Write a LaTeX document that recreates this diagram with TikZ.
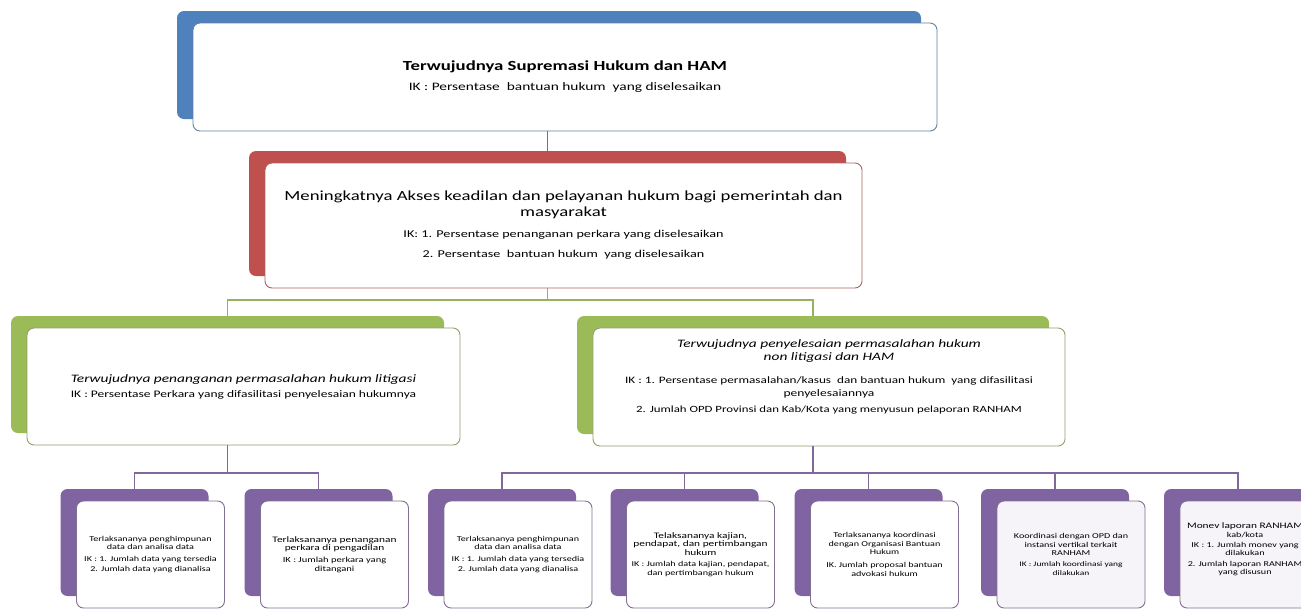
\documentclass[tikz,border=0pt]{standalone}
\usepackage{fontspec}
\setmainfont{Carlito}[FakeStretch=1.35]
\definecolor{accblue}{RGB}{79,129,189}
\definecolor{accred}{RGB}{192,80,77}
\definecolor{accgreen}{RGB}{155,187,89}
\definecolor{accpurple}{RGB}{128,100,162}
\usetikzlibrary{calc}
\usetikzlibrary{positioning}
\tikzset{
  backbox/.style={fill=#1, rounded corners=7pt, inner sep=0pt},
  frontbox/.style={draw=#1!55!gray, fill=white, rounded corners=7pt, line width=0.9pt,
    align=center, inner sep=2pt, xshift=16pt, yshift=-12pt},
  conn/.style={draw=#1!85!gray, line width=1.6pt},
}
\newcommand{\titlesize}{\fontsize{13.9}{18}\selectfont}
\newcommand{\subsize}{\fontsize{11.4}{15}\selectfont\itshape}
\newcommand{\bighd}{\fontsize{8.4}{9}\selectfont}
\begin{document}
\begin{tikzpicture}[x=1pt, y=-1pt]
  \useasboundingbox (0,0) rectangle (1301,611);

  % level 1
  \begin{scope}[every node/.append style={minimum width=744pt, minimum height=108pt}]
    \node [backbox=accblue] (topbg) at (549,65) {};
    \node [frontbox=accblue, font=\fontsize{11.4}{14}\selectfont] (top) at (topbg)
      {\titlesize\bfseries Terwujudnya Supremasi Hukum dan HAM\\[6pt]
       IK : Persentase\ \ bantuan hukum\ \ yang diselesaikan};
  \end{scope}

  % level 2
  \begin{scope}[every node/.append style={minimum width=597pt, minimum height=125pt}]
    \node [backbox=accred] (redbg) at (547.5,213.5) {};
    \node [frontbox=accred, font=\fontsize{10.5}{13}\selectfont] (red) at (redbg)
      {\titlesize Meningkatnya Akses keadilan dan pelayanan hukum bagi pemerintah dan\\[3pt]
       \titlesize masyarakat\\[8pt]
       IK: 1. Persentase penanganan perkara yang diselesaikan\\[7pt]
       2. Persentase\ \ bantuan hukum\ \ yang diselesaikan};
  \end{scope}

  % level 3
  \begin{scope}[font=\fontsize{10}{13}\selectfont]
    \node [backbox=accgreen, minimum width=433pt, minimum height=117pt] (lgreenbg) at (227.5,374.5) {};
    \node [frontbox=accgreen, minimum width=433pt, minimum height=117pt] (lgreen) at (lgreenbg)
      {\subsize Terwujudnya penanganan permasalahan hukum litigasi\\[2pt]
       IK : Persentase Perkara yang difasilitasi penyelesaian hukumnya};
    \node [backbox=accgreen, minimum width=472pt, minimum height=118pt] (rgreenbg) at (813,375) {};
    \node [frontbox=accgreen, minimum width=472pt, minimum height=118pt] (rgreen) at (rgreenbg)
      {\subsize Terwujudnya penyelesaian permasalahan hukum\\
       \subsize non litigasi dan HAM\\[10pt]
       \fontsize{9.8}{13}\selectfont IK : 1. Persentase permasalahan/kasus\ \ dan bantuan hukum\ \ yang difasilitasi\\
       penyelesaiannya\\[3pt]
       \fontsize{9.5}{13}\selectfont 2. Jumlah OPD Provinsi dan Kab/Kota yang menyusun pelaporan RANHAM\\[8pt]};
  \end{scope}

  % level 4
  \begin{scope}[every node/.append style={minimum width=148pt, minimum height=107pt},
                font=\fontsize{7.5}{8.4}\selectfont]
    \node [backbox=accpurple] (b1bg) at (134.5,542.5) {};
    \node [frontbox=accpurple] (b1) at (b1bg)
      {Terlaksananya penghimpunan\\data dan analisa data\\[3pt]
       IK : 1. Jumlah data yang tersedia\\[2pt] 2. Jumlah data yang dianalisa};
    \node [backbox=accpurple] (b2bg) at (318.5,542.5) {};
    \node [frontbox=accpurple] (b2) at (b2bg)
      {\bighd Terlaksananya penanganan\\\bighd perkara di pengadilan\\[4pt]
       \fontsize{7.8}{8.6}\selectfont IK : Jumlah perkara yang\\\fontsize{7.8}{8.6}\selectfont ditangani};
    \node [backbox=accpurple] (b3bg) at (502,542.5) {};
    \node [frontbox=accpurple] (b3) at (b3bg)
      {Terlaksananya penghimpunan\\data dan analisa data\\[3pt]
       IK : 1. Jumlah data yang tersedia\\[2pt] 2. Jumlah data yang dianalisa};
    \node [backbox=accpurple] (b4bg) at (684.5,542.5) {};
    \node [frontbox=accpurple] (b4) at (b4bg)
      {\bighd Telaksananya kajian,\\\bighd pendapat, dan pertimbangan\\\bighd hukum\\[3pt]
       IK : Jumlah data kajian, pendapat,\\dan pertimbangan hukum};
    \node [backbox=accpurple] (b5bg) at (868.5,542.5) {};
    \node [frontbox=accpurple] (b5) at (b5bg)
      {Terlaksananya koordinasi\\dengan Organisasi Bantuan\\Hukum\\[5pt]
       IK. Jumlah proposal bantuan\\advokasi hukum};
    \node [backbox=accpurple] (b6bg) at (1055,542.5) {};
    \node [frontbox=accpurple, fill=accpurple!7] (b6) at (b6bg)
      {Koordinasi dengan OPD dan\\instansi vertikal terkait\\RANHAM\\[3pt]
       \fontsize{7}{8}\selectfont IK : Jumlah koordinasi yang\\\fontsize{7}{8}\selectfont dilakukan};
    \node [backbox=accpurple] (b7bg) at (1238,542.5) {};
    \node [frontbox=accpurple, fill=accpurple!7] (b7) at (b7bg) {};
    \node [align=center, inner sep=0pt, minimum width=0pt, minimum height=0pt]
      (b7text) at ([xshift=-9pt, yshift=5pt]b7.center)
      {\bighd Monev laporan RANHAM\\kab/kota\\[2pt]
       IK : 1. Jumlah monev yang\\dilakukan\\[2pt] 2. Jumlah laporan RANHAM\\yang disusun};
  \end{scope}

  % connectors
  \coordinate (gjoin) at (547.5,300);
  \coordinate (ljoin) at (227.5,473);
  \coordinate (rjoin) at (813,473);
  \draw [conn=accred] (top.south -| redbg) -- (redbg.north);
  \draw [conn=accgreen] (red.south -| redbg) -- (gjoin);
  \draw [conn=accgreen] (lgreenbg.north) |- (gjoin) -| (rgreenbg.north);
  \draw [conn=accpurple] (lgreen.south -| lgreenbg) -- (ljoin);
  \draw [conn=accpurple] (b1bg.north) |- (ljoin) -| (b2bg.north);
  \draw [conn=accpurple] (rgreen.south -| rgreenbg) -- (rjoin);
  \draw [conn=accpurple] (b3bg.north) |- (rjoin) -| (b7bg.north);
  \foreach \i in {4,5,6}
    \draw [conn=accpurple] (b\i bg.north) -- (b\i bg.north |- rjoin);
\end{tikzpicture}
\end{document}
